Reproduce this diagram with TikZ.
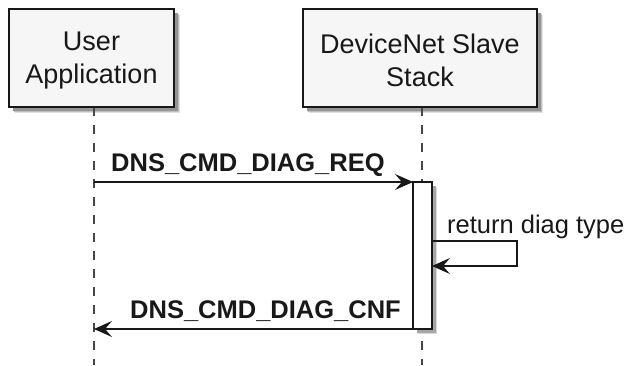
\documentclass[tikz,border=0pt]{standalone}
\usepackage{fontspec}
\setmainfont{Liberation Sans}
\usetikzlibrary{arrows.meta}
\definecolor{ink}{HTML}{181818}
\definecolor{boxfill}{HTML}{F6F6F6}
\tikzset{
  partbox/.style={draw=ink, line width=1.4pt, fill=boxfill, minimum width=#1, minimum height=98pt, inner sep=0pt},
  boxtext/.style={font=\fontsize{27}{33}\selectfont, text=ink, align=center, inner sep=0pt},
  life/.style={draw=ink!80, line width=1.2pt, dash pattern=on 9pt off 9pt},
  msg/.style={draw=ink, line width=1.2pt, -{Stealth[length=18pt,width=16pt,inset=7pt]}},
  msglabel/.style={font=\fontsize{25.5}{30}\selectfont\bfseries, text=ink, inner sep=0pt},
  selflabel/.style={font=\fontsize{25.5}{30}\selectfont, text=ink, inner sep=0pt},
}
\begin{document}
\begin{tikzpicture}[x=1pt,y=-1pt]
\useasboundingbox (0,0) rectangle (630,365);
% shadows (solid layers imitating a blur)
\fill[black!12] (15,15) rectangle (180,113);
\fill[black!12] (309,15) rectangle (543,113);
\fill[black!25] (14,14) rectangle (179,112);
\fill[black!25] (308,14) rectangle (542,112);
\fill[black!42] (13,13) rectangle (178,111);
\fill[black!42] (307,13) rectangle (541,111);
% lifelines
\coordinate (uTop) at (94,107);
\coordinate (uBot) at (94,365);
\coordinate (sTop) at (422,107);
\coordinate (sBot) at (422,365);
\draw[life] (uTop) -- (uBot);
\draw[life] (sTop) -- (sBot);
% participant boxes
\node[partbox=165pt] (user) at (91.5,58) {};
\node[partbox=234pt] (stack) at (420,58) {};
\node[boxtext] (userT) at (91.5,61) {User\\Application};
\node[boxtext] (stackT) at (420,60) {DeviceNet Slave\\Stack};
% activation shadow and box
\fill[black!15] (418,187) rectangle (437,334);
\fill[black!35] (417,186) rectangle (436,333);
\node[draw=ink, line width=1.2pt, fill=white, minimum width=19pt, minimum height=147pt, inner sep=0pt] (act) at (422.5,255.5) {};
% messages
\coordinate (r1s) at (94,182);
\coordinate (r1e) at (413,182);
\draw[msg] (r1s) -- (r1e);
\node[msglabel, anchor=base west] (l1) at (111,171) {DNS\_CMD\_DIAG\_REQ};
\coordinate (s0) at (432,241);
\coordinate (s1) at (517,241);
\coordinate (s2) at (517,266);
\coordinate (s3) at (432,266);
\draw[msg] (s0) -- (s1) -- (s2) -- (s3);
\node[selflabel, anchor=base west] (l2) at (447,233) {return diag type};
\coordinate (r3s) at (413,329);
\coordinate (r3e) at (94,329);
\draw[msg] (r3s) -- (r3e);
\node[msglabel, anchor=base west] (l3) at (130,318) {DNS\_CMD\_DIAG\_CNF};
\end{tikzpicture}
\end{document}
